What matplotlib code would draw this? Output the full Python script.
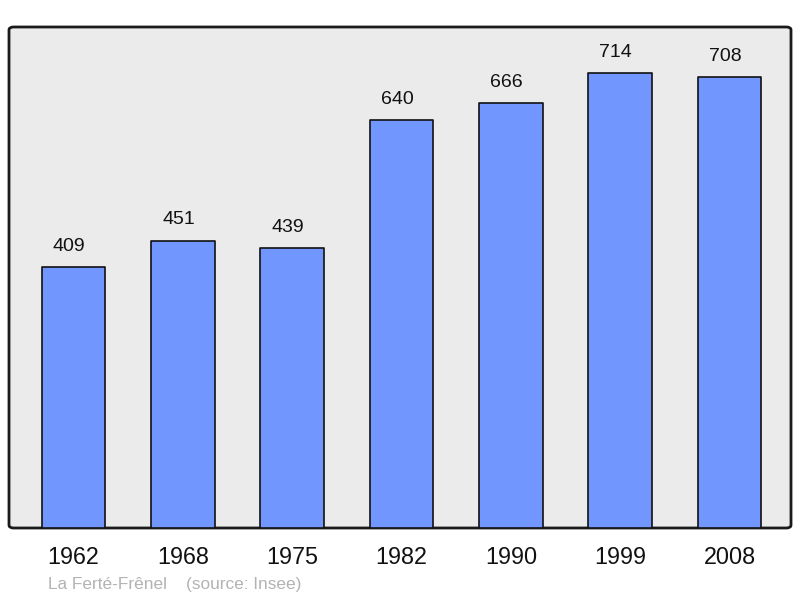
import matplotlib
matplotlib.use("Agg")
from matplotlib import pyplot as plt
from matplotlib.patches import FancyBboxPatch

plt.rcParams['font.family'] = ['Liberation Sans', 'DejaVu Sans']

years = ["1962", "1968", "1975", "1982", "1990", "1999", "2008"]
population = [409, 451, 439, 640, 666, 714, 708]
commune = "La Ferté-Frênel"
source = "(source: Insee)"

fig = plt.figure(figsize=(8, 5.98), dpi=100)
ax = fig.add_axes([9 / 800, 70 / 598, 782 / 800, 501 / 598])
ax.set_facecolor("none")

# background frame with rounded corners
frame = FancyBboxPatch((0, 0), 1, 1, boxstyle="round,pad=0,rounding_size=0.006",
                       transform=ax.transAxes, facecolor="#ebebeb",
                       edgecolor="#1a1a1a", linewidth=2, zorder=0, clip_on=False)
ax.add_patch(frame)

xs = list(range(len(years)))
ax.bar(xs, population, width=0.58, color="#7197ff", edgecolor="#111111",
       linewidth=1.2, joinstyle="round", zorder=2)

for x, v in zip(xs, population):
    ax.text(x - 0.04, v + 19, str(v), ha="center", va="bottom", fontsize=14,
            color="#111111")

ax.set_xlim(-0.59, 6.5625)
ax.set_ylim(0, 786)
for s in ax.spines.values():
    s.set_visible(False)
ax.set_yticks([])
ax.set_xticks(xs)
ax.set_xticklabels(years, fontsize=16.8, color="#111111")
ax.tick_params(axis="x", length=0, pad=13)

fig.text(48 / 800, 1 - 584 / 598, commune + "    " + source, fontsize=12.4,
         color="#b3b3b3", va="center", ha="left")

fig.savefig("out.png", dpi=100)
